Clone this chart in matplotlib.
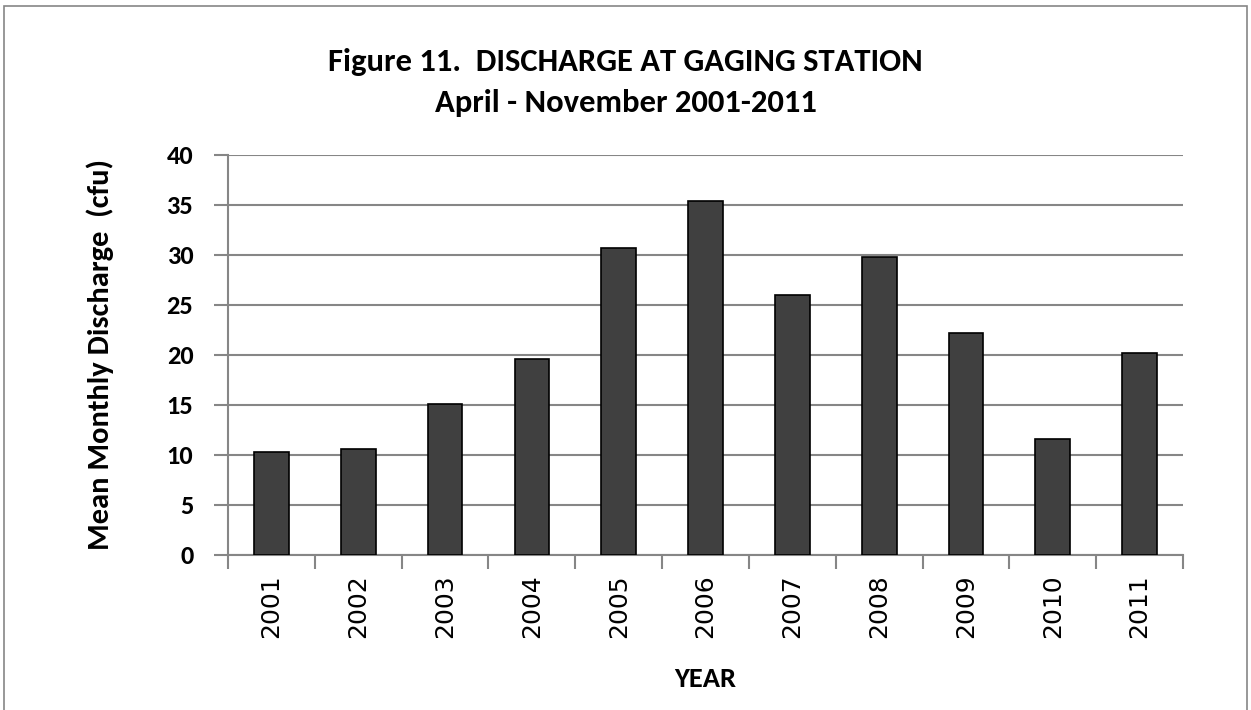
import matplotlib
matplotlib.use("Agg")
import matplotlib.pyplot as plt
from matplotlib.patches import Rectangle
import numpy as np

years = ['2001', '2002', '2003', '2004', '2005', '2006',
         '2007', '2008', '2009', '2010', '2011']
discharge = [10.3, 10.6, 15.1, 19.6, 30.7, 35.4, 26.0, 29.8, 22.2, 11.6, 20.2]
y_ticks = [0, 5, 10, 15, 20, 25, 30, 35, 40]

calibri = ['Carlito', 'Lato', 'DejaVu Sans']
grey = '#868686'

fig = plt.figure(figsize=(12.51, 7.10), dpi=100)
ax = fig.add_axes([228 / 1251, 1 - 555 / 710, (1183 - 228) / 1251, 400 / 710])

x = np.arange(len(years))
ax.bar(x, discharge, width=0.4, color='#404040', edgecolor='black', linewidth=1.2, zorder=3)

ax.set_xlim(-0.5, len(years) - 0.5)
ax.set_ylim(0, 40)
ax.set_yticks(y_ticks)
ax.set_yticklabels([str(v) for v in y_ticks], fontsize=19, fontweight='bold', family=calibri)
ax.grid(axis='y', color=grey, linewidth=1.5, zorder=0)

ax.set_xticks(x)
ax.set_xticklabels(years, rotation=90, fontsize=18, family='DejaVu Sans')
ax.set_xticks(np.arange(-0.5, len(years)), minor=True)
ax.tick_params(axis='x', which='major', length=0, pad=14)
ax.tick_params(axis='x', which='minor', length=10, color=grey, width=1.5)
ax.tick_params(axis='y', length=10, color=grey, width=1.5, pad=15)

for s in ['top', 'right']:
    ax.spines[s].set_visible(False)
for s in ['left', 'bottom']:
    ax.spines[s].set_color(grey)
    ax.spines[s].set_linewidth(1.5)

ax.set_ylabel('Mean Monthly Discharge  (cfu)', fontsize=22, fontweight='bold', family=calibri)
ax.yaxis.set_label_coords(-0.119, 0.5)
ax.set_xlabel('YEAR', fontsize=20.5, fontweight='bold', family=calibri, labelpad=21)

fig.text(0.5, 1 - 62 / 710, 'Figure 11.  DISCHARGE AT GAGING STATION', ha='center', va='center',
         fontsize=23.5, fontweight='bold', family=calibri)
fig.text(0.5, 1 - 103 / 710, 'April - November 2001-2011', ha='center', va='center',
         fontsize=23.5, fontweight='bold', family=calibri)

# outer chart border
fig.patches.append(Rectangle((4 / 1251, -0.1), 1243 / 1251, 1.1 - 6 / 710, transform=fig.transFigure,
                             fill=False, edgecolor=grey, linewidth=1.2))

fig.savefig('out.png', dpi=100)
